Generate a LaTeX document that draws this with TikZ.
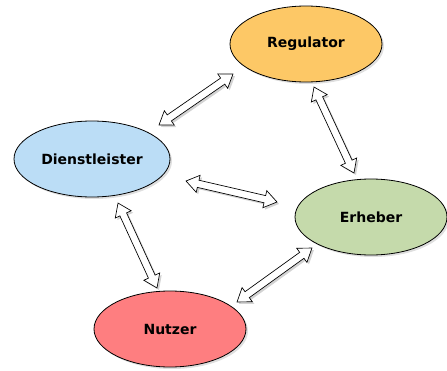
\documentclass[tikz,border=0pt]{standalone}
\usepackage{fontspec}
\setmainfont{DejaVu Sans}
\usepackage{tikz}
\usetikzlibrary{shapes.geometric}
\usetikzlibrary{shapes.arrows}
\usetikzlibrary{shadows}
\usetikzlibrary{calc}

\definecolor{regcol}{HTML}{FDC866}
\definecolor{dienstcol}{HTML}{BBDDF6}
\definecolor{erhcol}{HTML}{C5DAAB}
\definecolor{nutzcol}{HTML}{FE7E80}

\newcommand{\biarrow}[2]{%
  \path let \p1=($(#2)-(#1)$), \n1={atan2(\y1,\x1)}, \n2={veclen(\x1,\y1)} in
    node [link, minimum height=\n2, rotate=\n1] at ($(#1)!0.5!(#2)$) {};
}

\begin{document}
\begin{tikzpicture}
    [
    x=0.75pt,y=-0.75pt,
    actor/.style={ellipse,draw,line width=0.6pt,minimum width=114pt,minimum height=57pt,
      font=\bfseries\fontsize{10.5}{12}\selectfont,
      drop shadow={shadow xshift=1.5pt,shadow yshift=-1.5pt,opacity=0.25,fill=gray}},
    link/.style={double arrow,draw,fill=white,line width=0.5pt,inner xsep=0pt,inner ysep=2.5pt,
      double arrow head extend=3.8pt,double arrow tip angle=70,
      drop shadow={shadow xshift=1.5pt,shadow yshift=-1.5pt,opacity=0.35,fill=gray}},
    ]
    \useasboundingbox (0,0) rectangle (447,371);

    \node (reg) at (306,44) [actor,fill=regcol] {Regulator};
    \node (dienst) at (92,159) [actor,fill=dienstcol] {Dienstleister};
    \node (erheber) at (371,217) [actor,fill=erhcol] {Erheber};
    \node (nutzer) at (170,329) [actor,fill=nutzcol] {Nutzer};

    \coordinate (rd) at (233,74);
    \coordinate (dr) at (159,125);
    \coordinate (re) at (314,87);
    \coordinate (er) at (354,173);
    \coordinate (de) at (186,181);
    \coordinate (ed) at (277,202);
    \coordinate (dn) at (118,203);
    \coordinate (nd) at (157,288);
    \coordinate (en) at (312,248);
    \coordinate (ne) at (237,302);

    \biarrow{dr}{rd}
    \biarrow{re}{er}
    \biarrow{de}{ed}
    \biarrow{dn}{nd}
    \biarrow{ne}{en}
\end{tikzpicture}
\end{document}
